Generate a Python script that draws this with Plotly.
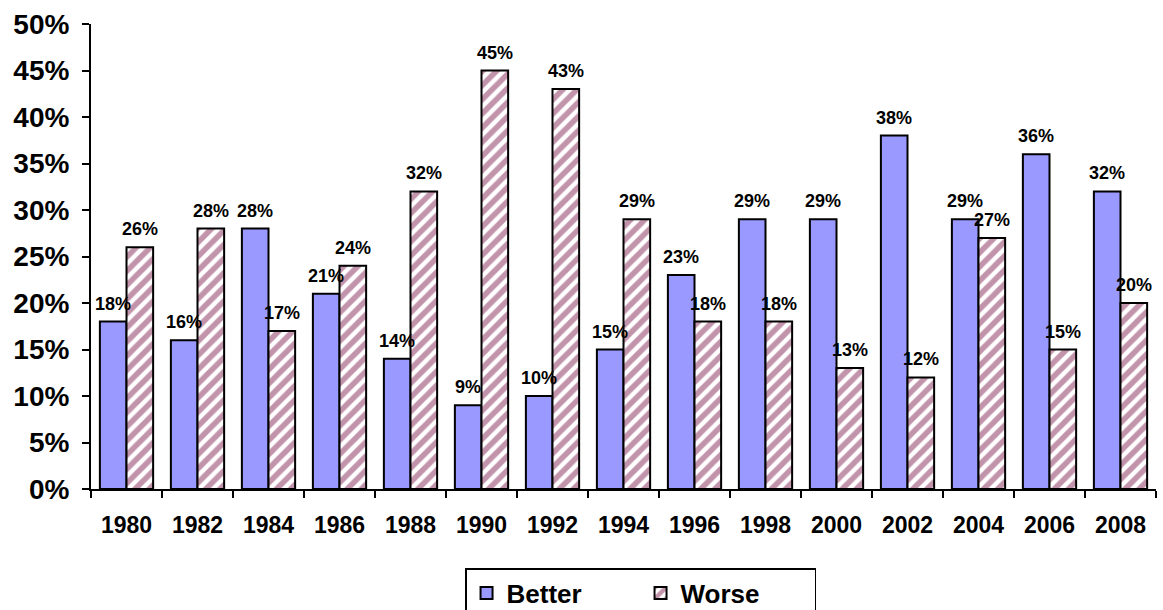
import plotly.graph_objects as go

years = ["1980", "1982", "1984", "1986", "1988", "1990", "1992", "1994",
         "1996", "1998", "2000", "2002", "2004", "2006", "2008"]
better = [18, 16, 28, 21, 14, 9, 10, 15, 23, 29, 29, 38, 29, 36, 32]
worse = [26, 28, 17, 24, 32, 45, 43, 29, 18, 18, 13, 12, 27, 15, 20]

FONT = "Liberation Sans, Arial, sans-serif"
label_font = dict(family=FONT, size=18, color="black")

fig = go.Figure()
fig.add_trace(go.Bar(
    name="<b>Better</b>", x=years, y=better,
    marker=dict(color="#9999FF", line=dict(color="black", width=2)),
))
fig.add_trace(go.Bar(
    name="<b>Worse</b>", x=years, y=worse,
    marker=dict(color="white", line=dict(color="black", width=2),
                pattern=dict(shape="/", fgcolor="#862A58", bgcolor="white",
                             size=10, solidity=0.55)),
))

# value labels sitting a little above each bar (x is the category index)
BAR_HALF = 13.5
for values, shift in ((better, -BAR_HALF), (worse, BAR_HALF)):
    for i, v in enumerate(values):
        fig.add_annotation(
            x=i, y=v, xref="x", yref="y", text=f"<b>{v}%</b>", showarrow=False,
            xshift=shift, yshift=6, yanchor="bottom",
            font=label_font,
        )

fig.update_layout(
    width=1163, height=610,
    margin=dict(l=91, r=7, t=24, b=121, autoexpand=False),
    plot_bgcolor="white", paper_bgcolor="white",
    barmode="group", bargap=0.25, bargroupgap=0,
    font=dict(family=FONT, color="black"),
    legend=dict(orientation="h", x=0.516, xanchor="center", y=-0.17, yanchor="top",
                bordercolor="black", borderwidth=1.5,
                font=dict(family=FONT, size=26, color="black"),
                entrywidth=129),
)
fig.update_xaxes(
    type="category", categoryorder="array", categoryarray=years,
    range=[-0.5, len(years) - 0.5],
    showline=True, linecolor="black", linewidth=2,
    ticks="outside", tickson="boundaries", ticklen=7, tickwidth=2, tickcolor="black",
    tickfont=dict(family=FONT, size=23, color="black"), ticklabelstandoff=14,
    tickangle=0, tickprefix="<b>", ticksuffix="</b>", showgrid=False,
)
fig.update_yaxes(
    range=[0, 50], dtick=5, showline=True, linecolor="black", linewidth=2,
    ticks="outside", ticklen=7, tickwidth=2, tickcolor="black",
    tickfont=dict(family=FONT, size=28, color="black"), ticklabelstandoff=7,
    tickprefix="<b>", ticksuffix="%</b>", showgrid=False, zeroline=False,
)

fig.write_html("out.html")
